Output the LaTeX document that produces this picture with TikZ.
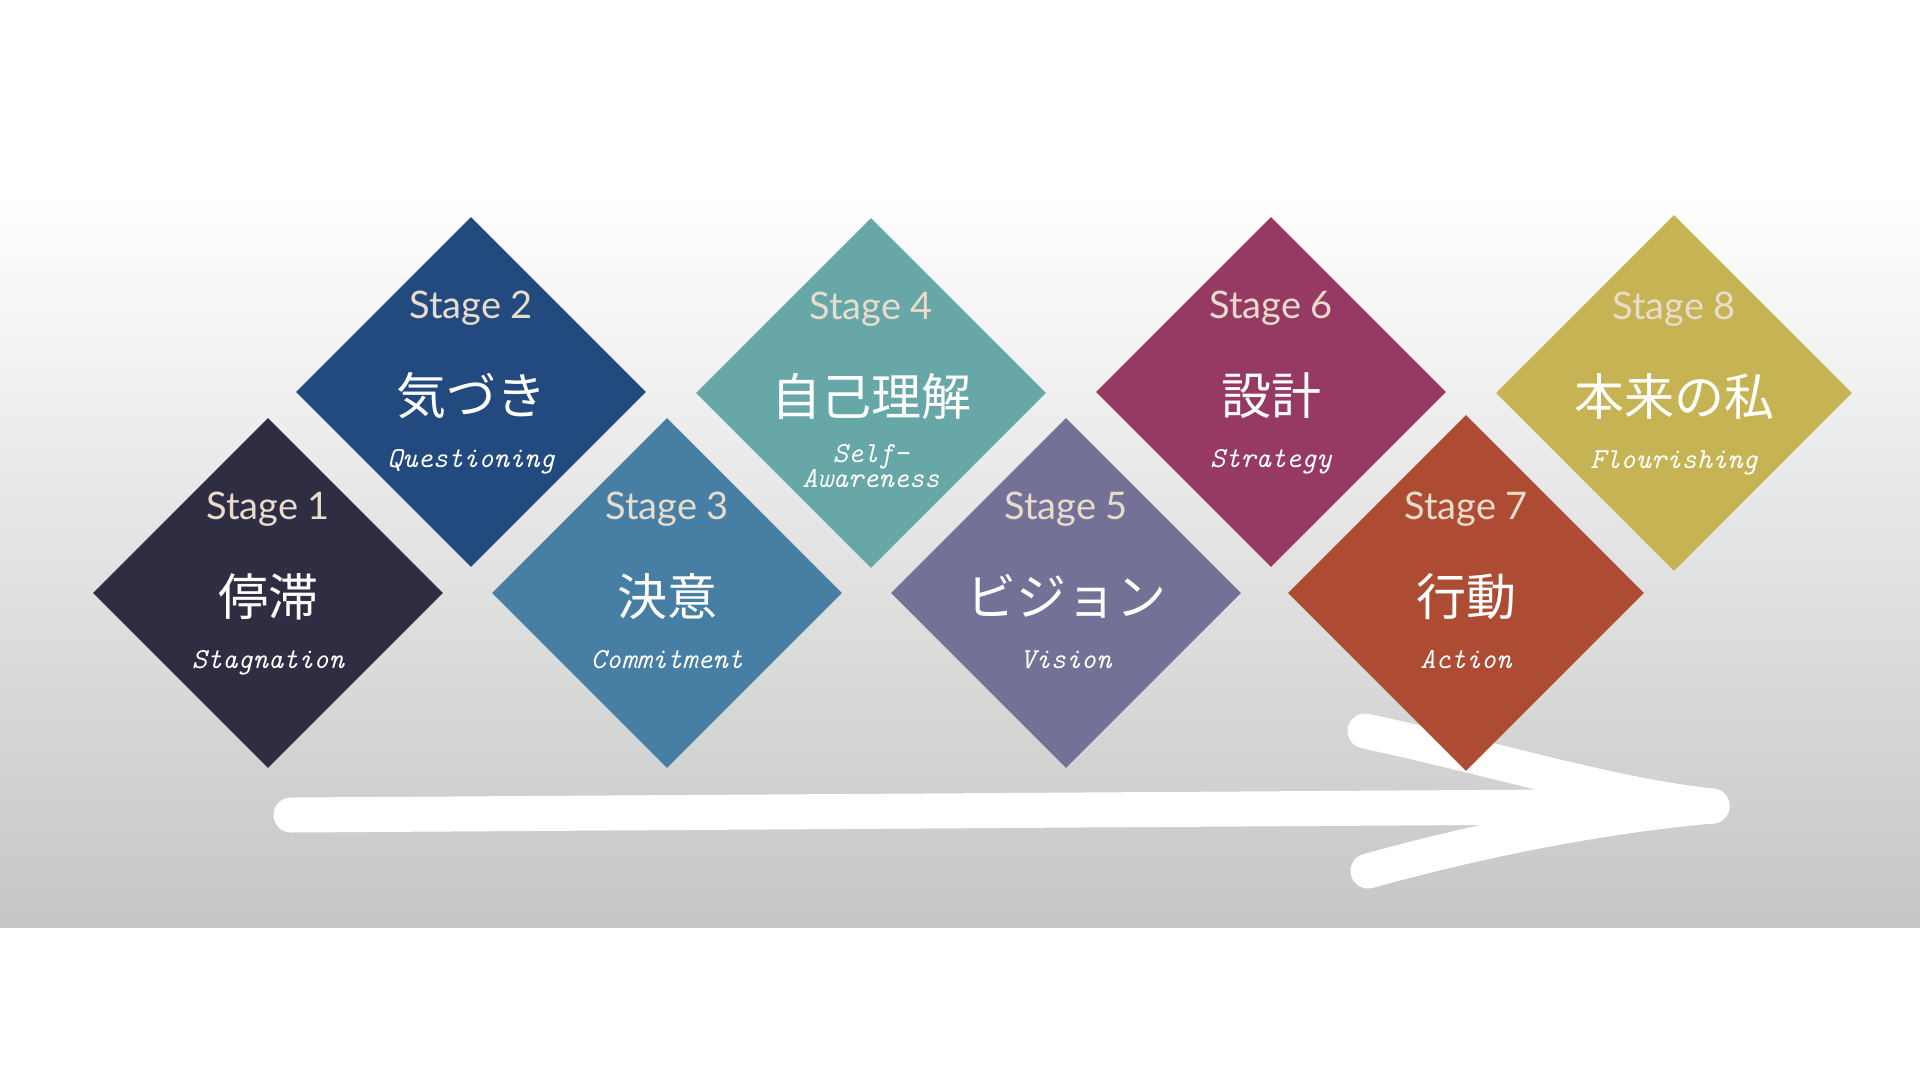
\documentclass[tikz,border=0pt]{standalone}
\usepackage{fontspec}
\setsansfont{Lato}
\newfontfamily\jpfont{Noto Sans CJK JP}
\usetikzlibrary{positioning, shapes.geometric}

\definecolor{stageone}{HTML}{2E2D42}
\definecolor{stagetwo}{HTML}{224A7E}
\definecolor{stagethree}{HTML}{467FA3}
\definecolor{stagefour}{HTML}{67A7A8}
\definecolor{stagefive}{HTML}{737196}
\definecolor{stagesix}{HTML}{963A64}
\definecolor{stageseven}{HTML}{AD4C33}
\definecolor{stageeight}{HTML}{C6B454}
\definecolor{stagelabel}{HTML}{E8DCCC}
\definecolor{bandbottom}{HTML}{C6C6C6}

\tikzset{
  stagebox/.style={diamond, aspect=1, minimum width=350pt, minimum height=350pt, inner sep=0pt},
  stagename/.style={anchor=base, text=stagelabel, font=\sffamily\fontsize{38}{40}\selectfont},
  jpname/.style={anchor=base, text=white, font=\jpfont\fontsize{50}{55}\selectfont},
  enname/.style={anchor=base, text=white, font=\ttfamily\itshape\fontsize{29}{30}\selectfont},
  stroke/.style={line width=35pt, white, line cap=round, line join=round}
}

\begin{document}
\begin{tikzpicture}[x=1pt, y=-1pt]
  \useasboundingbox (0,0) rectangle (1920,1080);
  \fill[white] (0,0) rectangle (1920,1080);
  \shade[top color=white, bottom color=bandbottom] (0,190) rectangle (1920,927);

  % arrow
  \coordinate (arrowstart) at (291,815);
  \coordinate (arrowtip) at (1712,806);
  \coordinate (barbup) at (1365,731);
  \coordinate (barblow) at (1368,871);
  \draw [stroke] (arrowstart) -- (arrowtip);
  \draw [stroke] (barbup) .. controls (1500,760) and (1610,795) .. (arrowtip);
  \draw [stroke] (barblow) .. controls (1480,840) and (1600,816) .. (arrowtip);

  % stages
  \node [stagebox, fill=stageone] (s1) at (268,593) {};
  \node [stagebox, fill=stagetwo] (s2) at (471,392) {};
  \node [stagebox, fill=stagethree] (s3) at (667,593) {};
  \node [stagebox, fill=stagefour] (s4) at (871,393) {};
  \node [stagebox, fill=stagefive] (s5) at (1066,593) {};
  \node [stagebox, fill=stagesix] (s6) at (1271,392) {};
  \node [stagebox, fill=stageseven, minimum width=356pt, minimum height=356pt] (s7) at (1466,593) {};
  \node [stagebox, fill=stageeight, minimum width=356pt, minimum height=356pt] (s8) at (1674,393) {};

  \node [stagename, yshift=74pt] (n1) at (s1) {Stage 1};
  \node [stagename, yshift=74pt] (n2) at (s2) {Stage 2};
  \node [stagename, yshift=74pt] (n3) at (s3) {Stage 3};
  \node [stagename, yshift=74pt] (n4) at (s4) {Stage 4};
  \node [stagename, yshift=74pt] (n5) at (s5) {Stage 5};
  \node [stagename, yshift=74pt] (n6) at (s6) {Stage 6};
  \node [stagename, yshift=74pt] (n7) at (s7) {Stage 7};
  \node [stagename, yshift=74pt] (n8) at (s8) {Stage 8};

  \node [jpname, yshift=-22pt] (j1) at (s1) {停滞};
  \node [jpname, yshift=-22pt] (j2) at (s2) {気づき};
  \node [jpname, yshift=-22pt] (j3) at (s3) {決意};
  \node [jpname, yshift=-22pt] (j4) at (s4) {自己理解};
  \node [jpname, yshift=-22pt] (j5) at (s5) {ビジョン};
  \node [jpname, yshift=-22pt] (j6) at (s6) {設計};
  \node [jpname, yshift=-22pt] (j7) at (s7) {行動};
  \node [jpname, yshift=-22pt] (j8) at (s8) {本来の私};

  \node [enname, yshift=-75pt] (e1) at (s1) {Stagnation};
  \node [enname, yshift=-75pt] (e2) at (s2) {Questioning};
  \node [enname, yshift=-75pt] (e3) at (s3) {Commitment};
  \node [enname, anchor=center, align=center, inner sep=0pt, font=\ttfamily\itshape\fontsize{29}{22}\selectfont, yshift=-73pt] (e4) at (s4) {Self-\\Awareness};
  \node [enname, yshift=-75pt] (e5) at (s5) {Vision};
  \node [enname, yshift=-75pt] (e6) at (s6) {Strategy};
  \node [enname, yshift=-75pt] (e7) at (s7) {Action};
  \node [enname, yshift=-75pt] (e8) at (s8) {Flourishing};
\end{tikzpicture}
\end{document}
